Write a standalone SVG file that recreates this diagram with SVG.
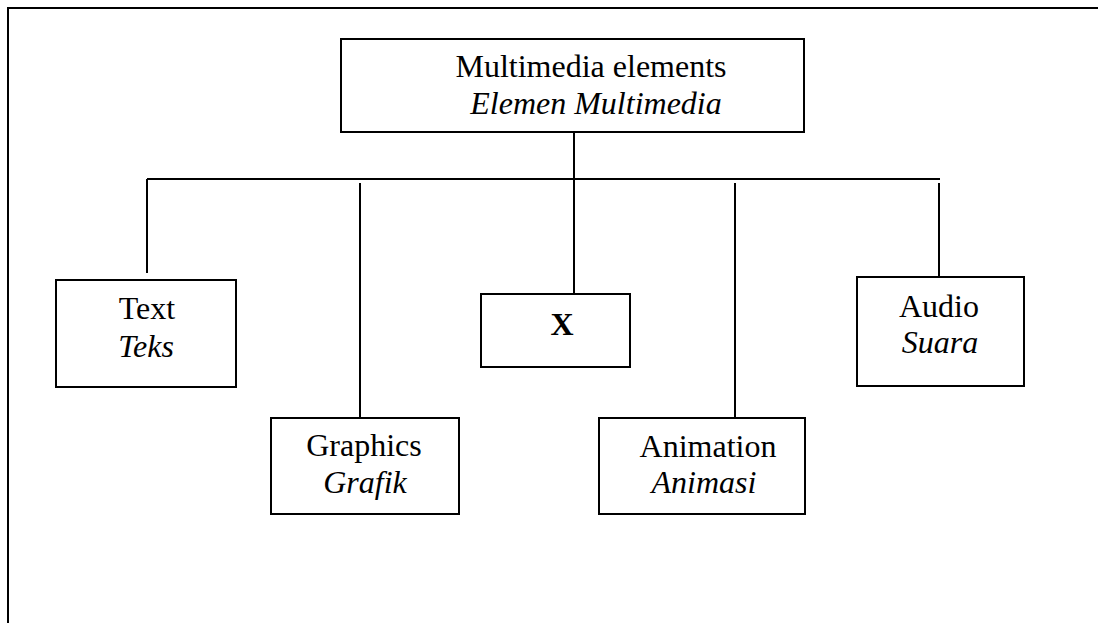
<svg xmlns="http://www.w3.org/2000/svg" width="1098" height="623" viewBox="0 0 1098 623">
<style>
  .box { fill: #ffffff; stroke: #000000; stroke-width: 2; }
  .ln { fill: none; stroke: #000000; stroke-width: 2; }
  .t { font-family: "Liberation Serif", "Times New Roman", serif; font-size: 32px; fill: #000000; text-anchor: middle; }
  .i { font-style: italic; }
  .b { font-weight: bold; }
</style>
<rect x="0" y="0" width="1098" height="623" fill="#ffffff"/>
<path class="ln" d="M8,623 V8 H1098"/>
<g id="connectors">
  <path class="ln" d="M574,132 V294"/>
  <path class="ln" d="M147,179 H940"/>
  <path class="ln" d="M147,179 V273"/>
  <path class="ln" d="M360,183 V418"/>
  <path class="ln" d="M735,183 V418"/>
  <path class="ln" d="M939,183 V277"/>
</g>
<g id="node-root">
  <rect class="box" x="341" y="39" width="463" height="93"/>
  <text class="t" x="591" y="77">Multimedia elements</text>
  <text class="t i" x="596" y="114">Elemen Multimedia</text>
</g>
<g id="node-text">
  <rect class="box" x="56" y="280" width="180" height="107"/>
  <text class="t" x="147" y="319">Text</text>
  <text class="t i" x="146" y="357">Teks</text>
</g>
<g id="node-graphics">
  <rect class="box" x="271" y="418" width="188" height="96"/>
  <text class="t" x="364" y="456">Graphics</text>
  <text class="t i" x="365" y="493">Grafik</text>
</g>
<g id="node-x">
  <rect class="box" x="481" y="294" width="149" height="73"/>
  <text class="t b" x="562" y="335">X</text>
</g>
<g id="node-animation">
  <rect class="box" x="599" y="418" width="206" height="96"/>
  <text class="t" x="708" y="457">Animation</text>
  <text class="t i" x="704" y="493">Animasi</text>
</g>
<g id="node-audio">
  <rect class="box" x="857" y="277" width="167" height="109"/>
  <text class="t" x="939" y="317">Audio</text>
  <text class="t i" x="940" y="353">Suara</text>
</g>
</svg>
